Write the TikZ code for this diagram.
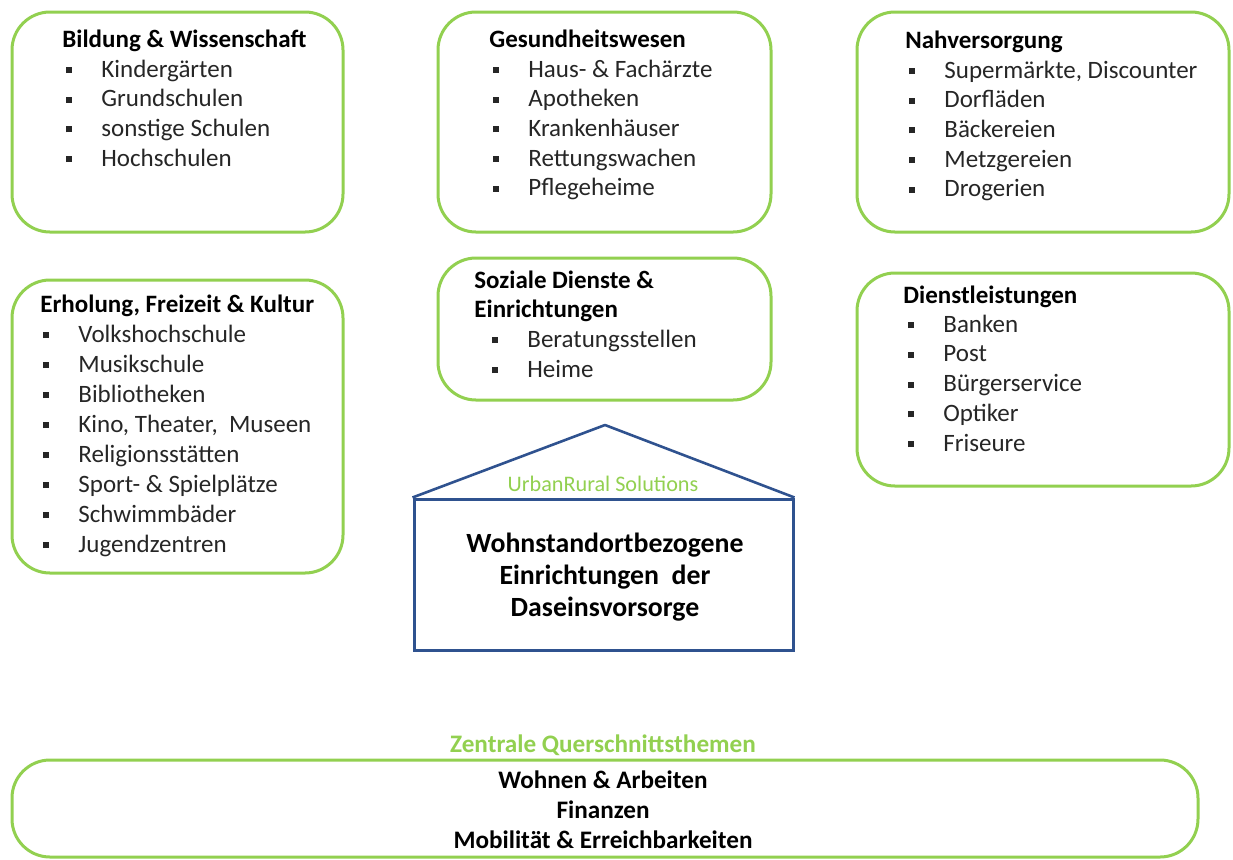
\documentclass[tikz,border=0pt]{standalone}
\usepackage{fontspec}
\setmainfont{Carlito}
\usetikzlibrary{fit}
\definecolor{lgreen}{RGB}{146,208,80}
\definecolor{hblue}{RGB}{47,82,143}
\newcommand\bul{\makebox[19.5pt][l]{\hspace{2pt}\rule[2pt]{3pt}{3pt}}}
\tikzset{
  gbox/.style={draw=lgreen, line width=1.5pt, rounded corners=19pt, inner sep=0pt},
  ttl/.style={anchor=base west, inner sep=0pt, font=\fontsize{12.5}{14}\selectfont\bfseries},
  itm/.style={anchor=base west, inner sep=0pt, font=\fontsize{12.5}{14}\selectfont, text=black!85},
  hbox/.style={draw=hblue, line width=1.5pt, inner sep=0pt},
}
\begin{document}
\begin{tikzpicture}[x=0.5pt,y=-0.5pt]
\useasboundingbox (0,0) rectangle (1233,859);
% boxes
\node[gbox, fit={(12,12) (343,232)}] (b1) {};
\node[gbox, fit={(438,12) (771,232)}] (b2) {};
\node[gbox, fit={(857,12) (1229,232)}] (b3) {};
\node[gbox, fit={(12,280) (343,573)}] (b4) {};
\node[gbox, fit={(438,258) (771,400)}] (b5) {};
\node[gbox, fit={(857,273) (1229,486)}] (b6) {};
\node[gbox, fit={(12,760) (1198,857)}] (b7) {};
% box 1
\node[ttl] (t1) at (62,47) {Bildung \& Wissenschaft};
\foreach \t [count=\i from 0] in {Kindergärten, Grundschulen, sonstige Schulen, Hochschulen}
  \node[itm] (i1-\i) at (62,77+29.7*\i) {\bul\t};
% box 2
\node[ttl] (t2) at (489,47) {Gesundheitswesen};
\foreach \t [count=\i from 0] in {Haus- \& Fachärzte, Apotheken, Krankenhäuser, Rettungswachen, Pflegeheime}
  \node[itm] (i2-\i) at (489,77+29.7*\i) {\bul\t};
% box 3
\node[ttl] (t3) at (905,48) {Nahversorgung};
\foreach \t [count=\i from 0] in {{Supermärkte, Discounter}, Dorfläden, Bäckereien, Metzgereien, Drogerien}
  \node[itm] (i3-\i) at (905,78+29.7*\i) {\bul\t};
% box 4
\node[ttl] (t4) at (40,312) {Erholung, Freizeit \& Kultur};
\foreach \t [count=\i from 0] in {Volkshochschule, Musikschule, Bibliotheken, {Kino, Theater,\ \ Museen}, Religionsstätten, Sport- \& Spielplätze, Schwimmbäder, Jugendzentren}
  \node[itm] (i4-\i) at (39,342+30*\i) {\bul\t};
% box 5
\node[ttl] (t5a) at (474,288) {Soziale Dienste \&};
\node[ttl] (t5b) at (474,317) {Einrichtungen};
\foreach \t [count=\i from 0] in {Beratungsstellen, Heime}
  \node[itm] (i5-\i) at (488,347+30*\i) {\bul\t};
% box 6
\node[ttl] (t6) at (903,303) {Dienstleistungen};
\foreach \t [count=\i from 0] in {Banken, Post, Bürgerservice, Optiker, Friseure}
  \node[itm] (i6-\i) at (904,332+29.8*\i) {\bul\t};
% house
\node[hbox, fit={(414,499) (793,650)}] (body) {};
\coordinate (apex) at (605,425);
\draw[hblue, line width=1.3pt, line join=round] (body.north west) -- (apex) -- (body.north east);
\node[text=lgreen, font=\fontsize{11.1}{12}\selectfont, inner sep=0pt] (brand) at (603,484) {UrbanRural Solutions};
\node[font=\fontsize{13.9}{16}\selectfont\bfseries, align=center, inner sep=0pt] (htext) at (605,577)
  {Wohnstandortbezogene\\Einrichtungen\ \ der\\Daseinsvorsorge};
% bottom
\node[text=lgreen, font=\fontsize{12.6}{14}\selectfont\bfseries, inner sep=0pt] (qt) at (603,745) {Zentrale Querschnittsthemen};
\node[font=\fontsize{12.6}{15}\selectfont\bfseries, align=center, inner sep=0pt] (qitems) at (603,810)
  {Wohnen \& Arbeiten\\Finanzen\\Mobilität \& Erreichbarkeiten};
\end{tikzpicture}
\end{document}
